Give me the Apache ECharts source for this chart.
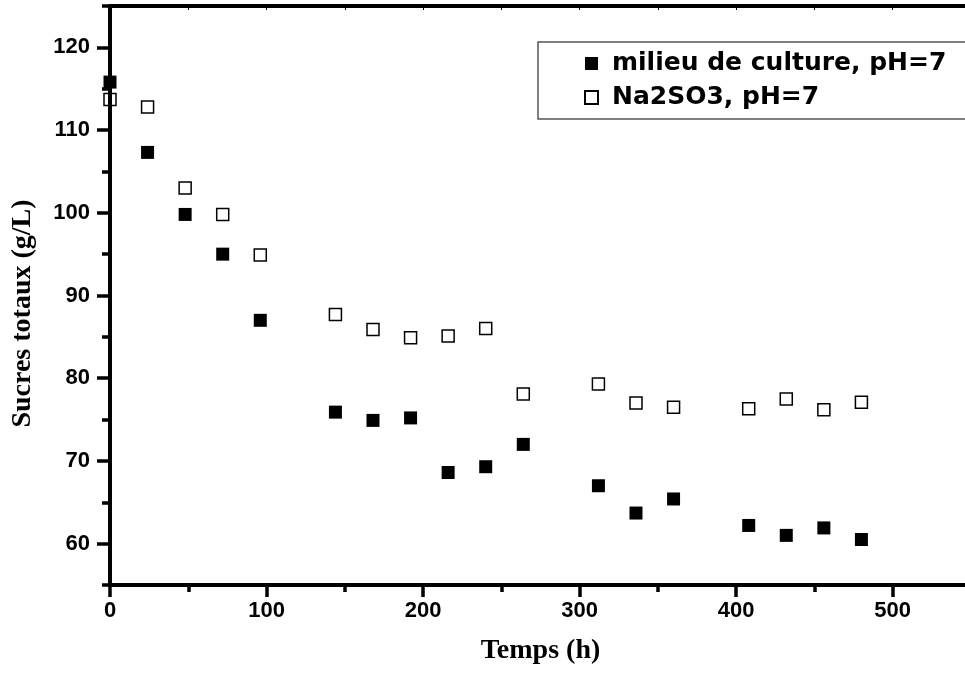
<!DOCTYPE html>
<html>
<head>
<meta charset="utf-8">
<script src="https://cdn.jsdelivr.net/npm/echarts@6/dist/echarts.min.js"></script>
<style>
html,body{margin:0;padding:0;background:#fff;}
#chart{width:965px;height:673px;}
</style>
</head>
<body>
<div id="chart"></div>
<script>
const hours = [0, 24, 48, 72, 96, 144, 168, 192, 216, 240, 264, 312, 336, 360, 408, 432, 456, 480];
const milieu = [115.8, 107.3, 99.8, 95.0, 87.0, 75.9, 74.9, 75.2, 68.6, 69.3, 72.0, 67.0, 63.7, 65.4, 62.2, 61.0, 61.9, 60.5];
const na2so3 = [113.7, 112.8, 103.0, 99.8, 94.9, 87.7, 85.9, 84.9, 85.1, 86.0, 78.1, 79.3, 77.0, 76.5, 76.3, 77.5, 76.2, 77.1];
const seriesNames = ['milieu de culture, pH=7', 'Na2SO3, pH=7'];
const xMajor = [0, 100, 200, 300, 400, 500];
const xMinor = [50, 150, 250, 350, 450, 550];
const xAll = [0, 50, 100, 150, 200, 250, 300, 350, 400, 450, 500, 550];
const yMajor = [60, 70, 80, 90, 100, 110, 120];
const yMinor = [55, 65, 75, 85, 95, 105, 115, 125];
const xTitle = 'Temps (h)';
const yTitle = 'Sucres totaux (g/L)';

const sans = 'Liberation Sans, Arial, sans-serif';
const wideSans = 'DejaVu Sans, Verdana, sans-serif';
const serif = 'Liberation Serif, Times New Roman, serif';
const chart = echarts.init(document.getElementById('chart'), null, {renderer: 'canvas'});

const lineStyle = {color: '#000', width: 4};
const xBase = {type: 'value', min: 0, max: 550, splitLine: {show: false}};
const yBase = {type: 'value', min: 55, max: 125, splitLine: {show: false}};

chart.setOption({
  animation: false,
  backgroundColor: '#fff',
  grid: {left: 110, right: -6, top: 6, bottom: 88, containLabel: false, outerBoundsMode: 'none'},
  legend: {
    orient: 'vertical', left: 538, top: 42,
    padding: [9, 40, 9, 46],
    borderColor: '#555', borderWidth: 1.5,
    itemWidth: 13, itemHeight: 13, itemGap: 9,
    textStyle: {fontSize: 25, fontWeight: 'bold', fontFamily: wideSans, color: '#000', lineHeight: 24, padding: [0, 0, 0, 9]},
    data: seriesNames.map(n => ({name: n, icon: 'rect'}))
  },
  xAxis: [
    Object.assign({}, xBase, {
      position: 'bottom', z: 5,
      axisLine: {show: true, lineStyle: lineStyle},
      axisTick: {show: true, inside: false, length: 12, lineStyle: {color: '#000', width: 3.5}, customValues: xMajor},
      axisLabel: {show: true, margin: 15, fontSize: 22, fontWeight: 'bold', fontFamily: sans, color: '#000', customValues: xMajor},
      name: xTitle, nameLocation: 'middle', nameGap: 52,
      nameTextStyle: {fontSize: 28, fontWeight: 'bold', fontFamily: serif, color: '#000'}
    }),
    Object.assign({}, xBase, {
      position: 'bottom', z: 5,
      axisLine: {show: false},
      axisTick: {show: true, inside: false, length: 7, lineStyle: {color: '#000', width: 3.5}, customValues: xMinor},
      axisLabel: {show: false}
    }),
    Object.assign({}, xBase, {
      position: 'top', z: 5,
      axisLine: {show: true, lineStyle: lineStyle},
      axisTick: {show: true, inside: true, length: 4, lineStyle: {color: '#000', width: 1}, customValues: xAll},
      axisLabel: {show: false}
    })
  ],
  yAxis: [
    Object.assign({}, yBase, {
      position: 'left', z: 5,
      axisLine: {show: true, lineStyle: lineStyle},
      axisTick: {show: true, inside: false, length: 13, lineStyle: {color: '#000', width: 3.5}, customValues: yMajor},
      axisLabel: {show: true, margin: 20, fontSize: 22, fontWeight: 'bold', fontFamily: sans, color: '#000', customValues: yMajor},
      name: yTitle, nameLocation: 'middle', nameGap: 73, nameRotate: 90,
      nameTextStyle: {fontSize: 28, fontWeight: 'bold', fontFamily: serif, color: '#000', padding: [0, 36, 0, 0]}
    }),
    Object.assign({}, yBase, {
      position: 'left', z: 5,
      axisLine: {show: false},
      axisTick: {show: true, inside: false, length: 8, lineStyle: {color: '#000', width: 3.5}, customValues: yMinor},
      axisLabel: {show: false}
    })
  ],
  series: [
    {
      name: seriesNames[0], type: 'scatter', xAxisIndex: 0, yAxisIndex: 0,
      symbol: 'rect', symbolSize: 13,
      itemStyle: {color: '#000', opacity: 1},
      data: hours.map((h, i) => [h, milieu[i]])
    },
    {
      name: seriesNames[1], type: 'scatter', xAxisIndex: 0, yAxisIndex: 0,
      symbol: 'rect', symbolSize: 12,
      itemStyle: {color: '#fff', borderColor: '#000', borderWidth: 1.5, opacity: 1},
      data: hours.map((h, i) => [h, na2so3[i]])
    }
  ]
});
</script>
</body>
</html>
